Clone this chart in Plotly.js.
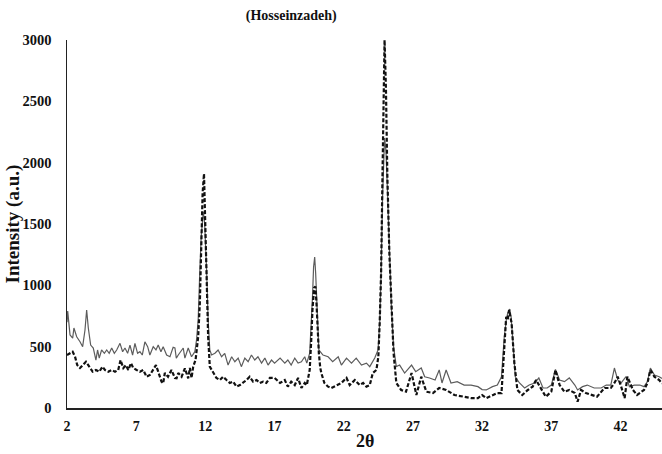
<!DOCTYPE html>
<html>
<head>
<meta charset="utf-8">
<script src="https://cdn.plot.ly/plotly-3.0.1.min.js"></script>
<style>
  html, body { margin: 0; padding: 0; background: #fff; }
  #chart { width: 662px; height: 454px; }
</style>
</head>
<body>
<div id="chart"></div>
<script>
// XRD pattern (2θ in degrees, intensity in a.u.)
const solidX = [2.0, 2.05, 2.22, 2.41, 2.5, 2.7, 2.94, 3.13, 3.3, 3.42, 3.54, 3.71, 3.9, 4.09, 4.21, 4.33,
  4.5, 4.7, 4.87, 5.05, 5.23, 5.42, 5.59, 5.83, 6.02, 6.19, 6.38, 6.55, 6.74, 6.91, 7.1, 7.27, 7.44,
  7.63, 7.83, 7.99, 8.23, 8.43, 8.59, 8.79, 8.95, 9.07, 9.2, 9.44, 9.67, 9.8, 9.9, 10.04, 10.28, 10.4,
  10.52, 10.76, 11.0, 11.24, 11.36, 11.48, 11.6, 11.7, 11.85, 11.95, 12.09, 12.2, 12.32, 12.45, 12.69,
  12.92, 13.17, 13.4, 13.64, 13.9, 14.13, 14.37, 14.6, 14.85, 15.09, 15.33, 15.57, 15.8, 16.06, 16.3,
  16.53, 16.78, 17.0, 17.4, 17.74, 17.96, 18.2, 18.46, 18.7, 18.94, 19.18, 19.33, 19.54, 19.65, 19.74,
  19.82, 19.9, 19.97, 20.05, 20.12, 20.2, 20.5, 20.87, 21.2, 21.6, 21.83, 22.2, 22.56, 22.9, 23.28,
  23.64, 23.88, 24.24, 24.48, 24.6, 24.7, 24.8, 24.95, 25.05, 25.15, 25.3, 25.45, 25.6, 25.8, 26.04,
  26.4, 26.9, 27.2, 27.6, 27.85, 28.2, 28.6, 28.9, 29.1, 29.4, 29.75, 30.2, 30.7, 31.2, 31.7, 32.0,
  32.3, 32.75, 33.1, 33.4, 33.6, 33.75, 33.85, 34.0, 34.1, 34.2, 34.3, 34.4, 34.7, 35.07, 35.4, 35.8,
  36.1, 36.4, 36.7, 37.0, 37.3, 37.6, 37.95, 38.3, 38.7, 38.9, 39.26, 39.6, 40.1, 40.6, 40.97, 41.3,
  41.56, 41.8, 42.05, 42.4, 42.65, 43.0, 43.4, 43.7, 43.95, 44.16, 44.45, 44.8, 45.0];
const solidY = [700, 790, 595, 570, 652, 581, 540, 500, 636, 799, 652, 513, 489, 391, 473, 407,
  473, 446, 473, 446, 489, 446, 473, 527, 459, 489, 446, 513, 432, 527, 446, 459, 432,
  540, 500, 432, 500, 473, 513, 459, 500, 473, 432, 418, 495, 489, 407, 432, 473, 489,
  407, 489, 418, 459, 554, 717, 1125, 1400, 1600, 1500, 1125, 717, 473, 432, 446,
  473, 418, 446, 350, 418, 377, 407, 337, 407, 377, 432, 391, 418, 366, 407,
  350, 391, 366, 407, 366, 391, 350, 407, 366, 377, 418, 366, 448, 650, 900,
  1150, 1230, 1100, 900, 650, 473, 432, 418, 377, 418, 350, 407, 366, 407, 350,
  366, 337, 407, 473, 700, 1100, 1700, 2200, 2100, 1800, 1250, 800, 500, 337, 350,
  285, 350, 296, 326, 255, 245, 228, 310, 204, 310, 204, 215, 187, 187, 174, 150,
  147, 174, 187, 255, 581, 720, 774, 807, 740, 581, 400, 255, 204, 163, 187, 204,
  245, 163, 163, 187, 315, 228, 215, 245, 187, 147, 174, 187, 163, 163, 187, 187,
  326, 228, 204, 255, 174, 187, 187, 174, 215, 326, 269, 255, 240];

const dashX = [2.0, 2.22, 2.41, 2.58, 2.74, 2.94, 3.13, 3.37, 3.61, 3.85, 4.09, 4.33, 4.57, 4.74, 4.98,
  5.23, 5.47, 5.7, 5.87, 6.07, 6.26, 6.43, 6.62, 6.79, 7.03, 7.27, 7.51, 7.75, 7.99, 8.23, 8.43, 8.59,
  8.83, 8.95, 9.07, 9.3, 9.55, 9.8, 9.92, 10.04, 10.28, 10.52, 10.76, 10.88, 11.0, 11.12, 11.29, 11.48,
  11.6, 11.7, 11.8, 11.9, 12.0, 12.09, 12.2, 12.32, 12.56, 12.8, 13.05, 13.28, 13.53, 13.77, 14.0,
  14.25, 14.5, 14.73, 14.97, 15.2, 15.45, 15.7, 15.93, 16.17, 16.4, 16.66, 17.0, 17.4, 17.74, 17.96,
  18.2, 18.46, 18.7, 18.94, 19.18, 19.33, 19.54, 19.65, 19.74, 19.86, 19.95, 20.03, 20.12, 20.2, 20.3,
  20.38, 20.6, 20.87, 21.1, 21.47, 21.83, 22.2, 22.43, 22.8, 23.15, 23.4, 23.64, 23.88, 24.1, 24.36,
  24.5, 24.6, 24.7, 24.8, 24.9, 24.95, 25.05, 25.15, 25.3, 25.45, 25.6, 25.8, 26.15, 26.5, 26.9, 27.25,
  27.6, 27.97, 28.45, 28.9, 29.4, 30.0, 30.6, 31.2, 31.7, 32.0, 32.3, 32.75, 33.1, 33.4, 33.55, 33.74,
  33.85, 33.95, 34.13, 34.33, 34.55, 34.9, 35.3, 35.65, 35.9, 36.3, 36.6, 37.0, 37.3, 37.6, 37.95,
  38.3, 38.7, 38.9, 39.15, 39.5, 39.97, 40.3, 40.85, 41.3, 41.56, 41.8, 42.05, 42.3, 42.5, 42.9, 43.2,
  43.7, 43.95, 44.16, 44.45, 44.8, 45.0];
const dashY = [432, 446, 459, 418, 350, 326, 350, 377, 337, 296, 310, 296, 337, 310, 296,
  310, 296, 310, 391, 326, 350, 310, 366, 326, 310, 296, 310, 255, 269, 310, 350, 296,
  215, 201, 285, 255, 310, 245, 242, 285, 255, 323, 242, 326, 245, 337, 391, 581,
  855, 1300, 1750, 1910, 1500, 962, 581, 337, 285, 245, 228, 255, 228, 204, 215,
  174, 187, 204, 228, 255, 215, 228, 204, 215, 204, 245, 245, 204, 228, 174,
  215, 187, 245, 163, 204, 187, 310, 550, 800, 980, 990, 855, 600, 448, 330,
  285, 204, 174, 163, 187, 204, 245, 187, 228, 187, 204, 174, 187, 285, 310,
  418, 700, 1100, 1900, 2800, 3000, 2600, 1900, 1250, 800, 450, 204, 147, 133, 285, 106,
  255, 133, 122, 163, 147, 106, 92, 81, 81, 106, 81, 106, 122, 122, 448, 744,
  720, 799, 692, 366, 147, 106, 147, 174, 228, 147, 92, 133, 310, 187, 133,
  147, 122, 52, 147, 122, 106, 92, 163, 163, 204, 255, 174, 81, 255, 147, 106,
  147, 204, 310, 255, 228, 200];

const xTicks = [2, 7, 12, 17, 22, 27, 32, 37, 42];
const yTicks = [0, 500, 1000, 1500, 2000, 2500, 3000];

const serif = 'Liberation Serif, Times New Roman, serif';

const traces = [
  {
    x: solidX, y: solidY, type: 'scatter', mode: 'lines',
    line: { color: '#5c5c5c', width: 1.2 },
    showlegend: false
  },
  {
    x: dashX, y: dashY, type: 'scatter', mode: 'lines',
    line: { color: '#111', width: 2.2, dash: '4px,2px' },
    showlegend: false
  }
];

const layout = {
  width: 662, height: 454,
  margin: { l: 67, r: 0, t: 40, b: 46 },
  paper_bgcolor: '#fff',
  plot_bgcolor: '#fff',
  title: {
    text: '(Hosseinzadeh)',
    x: 0.44, xanchor: 'center', y: 0.967, yanchor: 'middle',
    font: { family: serif, size: 14, weight: 'bold', color: '#111' }
  },
  xaxis: {
    range: [2, 45],
    tickvals: xTicks,
    ticktext: xTicks.map(String),
    showgrid: false, zeroline: false,
    showline: true, linecolor: '#222', linewidth: 1.5,
    ticks: '', ticklabelstandoff: 5,
    tickfont: { family: serif, size: 14, weight: 'bold', color: '#111' }
  },
  yaxis: {
    range: [0, 3000],
    tickvals: yTicks,
    ticktext: yTicks.map(String),
    showgrid: false, zeroline: false,
    showline: true, linecolor: '#222', linewidth: 1.5,
    ticks: '', ticklabelstandoff: 11,
    tickfont: { family: serif, size: 14.5, weight: 'bold', color: '#111' }
  },
  annotations: [
    {
      text: 'Intensity (a.u.)', xref: 'paper', yref: 'paper',
      x: -0.09, y: 0.5, xanchor: 'center', yanchor: 'middle',
      textangle: -90, showarrow: false,
      font: { family: serif, size: 19, weight: 'bold', color: '#111' }
    },
    {
      text: '2θ', xref: 'paper', yref: 'paper',
      x: 0.5, y: -0.09, xanchor: 'center', yanchor: 'middle',
      showarrow: false,
      font: { family: serif, size: 18, weight: 'bold', color: '#111' }
    }
  ]
};

Plotly.newPlot('chart', traces, layout, { displayModeBar: false, staticPlot: true });
</script>
</body>
</html>
